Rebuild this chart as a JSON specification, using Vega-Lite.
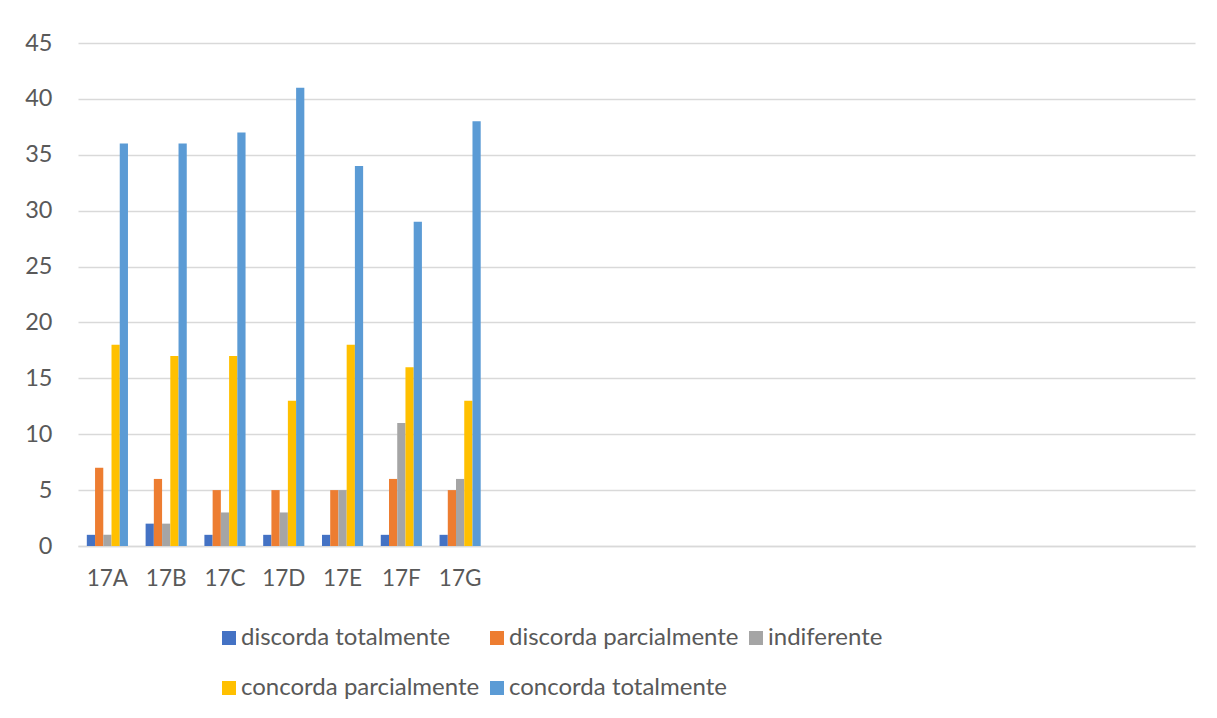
{
  "$schema": "https://vega.github.io/schema/vega-lite/v6.json",
  "autosize": {"type": "none"},
  "width": 1117,
  "height": 503,
  "padding": {"left": 78, "top": 43, "right": 22, "bottom": 172},
  "background": "white",
  "data": {
    "values": [
      {"item": "17A", "serie": "discorda totalmente", "valor": 1},
      {"item": "17A", "serie": "discorda parcialmente", "valor": 7},
      {"item": "17A", "serie": "indiferente", "valor": 1},
      {"item": "17A", "serie": "concorda parcialmente", "valor": 18},
      {"item": "17A", "serie": "concorda totalmente", "valor": 36},
      {"item": "17B", "serie": "discorda totalmente", "valor": 2},
      {"item": "17B", "serie": "discorda parcialmente", "valor": 6},
      {"item": "17B", "serie": "indiferente", "valor": 2},
      {"item": "17B", "serie": "concorda parcialmente", "valor": 17},
      {"item": "17B", "serie": "concorda totalmente", "valor": 36},
      {"item": "17C", "serie": "discorda totalmente", "valor": 1},
      {"item": "17C", "serie": "discorda parcialmente", "valor": 5},
      {"item": "17C", "serie": "indiferente", "valor": 3},
      {"item": "17C", "serie": "concorda parcialmente", "valor": 17},
      {"item": "17C", "serie": "concorda totalmente", "valor": 37},
      {"item": "17D", "serie": "discorda totalmente", "valor": 1},
      {"item": "17D", "serie": "discorda parcialmente", "valor": 5},
      {"item": "17D", "serie": "indiferente", "valor": 3},
      {"item": "17D", "serie": "concorda parcialmente", "valor": 13},
      {"item": "17D", "serie": "concorda totalmente", "valor": 41},
      {"item": "17E", "serie": "discorda totalmente", "valor": 1},
      {"item": "17E", "serie": "discorda parcialmente", "valor": 5},
      {"item": "17E", "serie": "indiferente", "valor": 5},
      {"item": "17E", "serie": "concorda parcialmente", "valor": 18},
      {"item": "17E", "serie": "concorda totalmente", "valor": 34},
      {"item": "17F", "serie": "discorda totalmente", "valor": 1},
      {"item": "17F", "serie": "discorda parcialmente", "valor": 6},
      {"item": "17F", "serie": "indiferente", "valor": 11},
      {"item": "17F", "serie": "concorda parcialmente", "valor": 16},
      {"item": "17F", "serie": "concorda totalmente", "valor": 29},
      {"item": "17G", "serie": "discorda totalmente", "valor": 1},
      {"item": "17G", "serie": "discorda parcialmente", "valor": 5},
      {"item": "17G", "serie": "indiferente", "valor": 6},
      {"item": "17G", "serie": "concorda parcialmente", "valor": 13},
      {"item": "17G", "serie": "concorda totalmente", "valor": 38}
    ]
  },
  "mark": {"type": "bar"},
  "encoding": {
    "x": {
      "field": "item",
      "type": "nominal",
      "scale": {
        "domain": ["17A", "17B", "17C", "17D", "17E", "17F", "17G", "_08", "_09", "_10", "_11", "_12", "_13", "_14", "_15", "_16", "_17", "_18", "_19"],
        "paddingInner": 0.3,
        "paddingOuter": 0.15
      },
      "axis": {
        "title": null,
        "labelAngle": 0,
        "labelExpr": "indexof(datum.label, '_') == 0 ? '' : datum.label",
        "ticks": false,
        "domainColor": "#d9d9d9",
        "domainWidth": 1.5,
        "labelFont": "Lato",
        "labelFontSize": 22.5,
        "labelColor": "#595959",
        "labelPadding": 21,
        "grid": false
      }
    },
    "xOffset": {
      "field": "serie",
      "type": "nominal",
      "sort": ["discorda totalmente", "discorda parcialmente", "indiferente", "concorda parcialmente", "concorda totalmente"],
      "scale": {"paddingInner": 0, "paddingOuter": 0}
    },
    "y": {
      "field": "valor",
      "type": "quantitative",
      "scale": {"domain": [0, 45], "nice": false},
      "axis": {
        "title": null,
        "values": [0, 5, 10, 15, 20, 25, 30, 35, 40, 45],
        "domain": false,
        "ticks": false,
        "gridColor": "#d9d9d9",
        "gridWidth": 1.5,
        "labelFont": "Lato",
        "labelFontSize": 23.5,
        "labelColor": "#595959",
        "labelPadding": 26
      }
    },
    "color": {
      "field": "serie",
      "type": "nominal",
      "sort": ["discorda totalmente", "discorda parcialmente", "indiferente", "concorda parcialmente", "concorda totalmente"],
      "scale": {
        "domain": ["discorda totalmente", "discorda parcialmente", "indiferente", "concorda parcialmente", "concorda totalmente"],
        "range": ["#4472C4", "#ED7D31", "#A5A5A5", "#FFC000", "#5B9BD5"]
      },
      "legend": {
        "title": null,
        "orient": "none",
        "legendX": 139,
        "legendY": 583,
        "direction": "horizontal",
        "columns": 3,
        "symbolType": "square",
        "symbolSize": 196,
        "symbolStrokeWidth": 0,
        "labelFont": "Lato",
        "labelFontSize": 24,
        "labelColor": "#595959",
        "labelOffset": 0,
        "columnPadding": 5,
        "rowPadding": 26,
        "labelLimit": 500
      }
    }
  },
  "config": {
    "view": {"stroke": null}
  }
}
